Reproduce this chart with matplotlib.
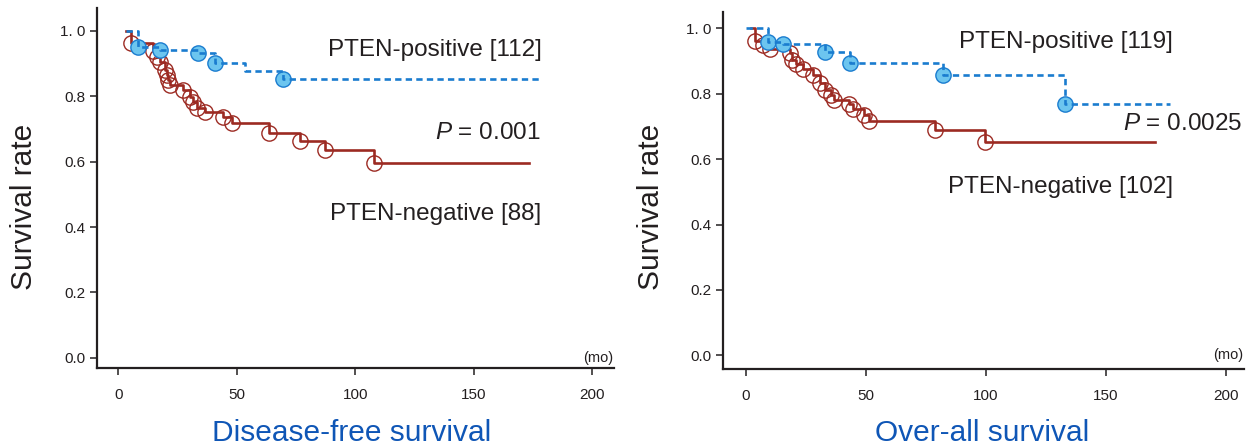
import matplotlib
matplotlib.use("Agg")
import matplotlib.pyplot as plt

plt.rcParams['font.family'] = ['Liberation Sans', 'DejaVu Sans']
plt.rcParams['mathtext.fontset'] = 'custom'
plt.rcParams['mathtext.rm'] = 'Liberation Sans'
plt.rcParams['mathtext.it'] = 'Liberation Sans:italic'

# ---------------- data ----------------
x_ticks = [0, 50, 100, 150, 200]
y_ticks = [0.0, 0.2, 0.4, 0.6, 0.8, 1.0]
y_tick_labels = ["0.0", "0.2", "0.4", "0.6", "0.8", "1. 0"]

# Disease-free survival, PTEN-positive (step times / survival after step)
dfs_pos_t = [3, 8.4, 17.6, 33.8, 40.8, 53.5, 69.4, 178.7]
dfs_pos_s = [1.0, 0.952, 0.942, 0.932, 0.903, 0.878, 0.852, 0.852]
dfs_pos_mark_t = [8.4, 17.6, 33.8, 40.8, 69.4]
dfs_pos_mark_s = [0.952, 0.942, 0.932, 0.903, 0.852]

# Disease-free survival, PTEN-negative
dfs_neg_t = [3, 5.4, 14.8, 16.2, 17.6, 19.7, 20.4, 21.1, 21.8, 27.4, 30.3,
             31.6, 33.1, 36.6, 44.3, 47.8, 63.5, 76.7, 87.0, 108.0, 173.4]
dfs_neg_s = [1.0, 0.962, 0.937, 0.921, 0.906, 0.881, 0.865, 0.850, 0.835, 0.820, 0.799,
             0.784, 0.764, 0.753, 0.738, 0.718, 0.687, 0.663, 0.636, 0.597, 0.597]
dfs_neg_mark_t = dfs_neg_t[1:-1]
dfs_neg_mark_s = dfs_neg_s[1:-1]

# Over-all survival, PTEN-positive
os_pos_t = [0, 9.4, 15.5, 33.0, 43.4, 82.2, 132.9, 176.5]
os_pos_s = [1.0, 0.958, 0.952, 0.929, 0.895, 0.857, 0.770, 0.770]
os_pos_mark_t = [9.4, 15.5, 33.0, 43.4, 82.2, 132.9]
os_pos_mark_s = [0.958, 0.952, 0.929, 0.895, 0.857, 0.770]

# Over-all survival, PTEN-negative
os_neg_t = [2, 4.0, 7.0, 10.2, 18.4, 19.2, 21.0, 23.9, 27.9, 30.8, 33.1, 35.5,
            36.6, 43.0, 44.6, 49.3, 51.5, 78.6, 99.7, 170.5]
os_neg_s = [1.0, 0.962, 0.949, 0.938, 0.925, 0.903, 0.891, 0.877, 0.857, 0.832, 0.813, 0.796,
            0.780, 0.768, 0.753, 0.735, 0.717, 0.689, 0.652, 0.652]
os_neg_mark_t = os_neg_t[1:-1]
os_neg_mark_s = os_neg_s[1:-1]

# ---------------- style ----------------
RED = '#9c2a22'
BLUE = '#1a7ccf'
LBLUE = '#6cc5ef'
TITLE_BLUE = '#0f56b6'
TXT = '#231f20'

W, H = 1259, 447
fig = plt.figure(figsize=(W / 100, H / 100), dpi=100)


def setup(ax, xlim, ylim):
    ax.set_xlim(*xlim)
    ax.set_ylim(*ylim)
    for s in ('top', 'right'):
        ax.spines[s].set_visible(False)
    for s in ('left', 'bottom'):
        ax.spines[s].set_linewidth(1.6)
        ax.spines[s].set_color(TXT)
    ax.set_xticks(x_ticks)
    ax.set_xticklabels([str(v) for v in x_ticks])
    ax.set_yticks(y_ticks)
    ax.set_yticklabels(y_tick_labels)
    ax.tick_params(direction='out', length=5, width=1.1, color=TXT,
                   labelsize=11, labelcolor=TXT)
    ax.tick_params(axis='x', pad=9.5)
    ax.tick_params(axis='y', pad=3.5)


def draw(ax, pt, ps, pmt, pms, nt, ns, nmt, nms):
    ax.plot(nmt, nms, 'o', ms=11, mfc='none', mec=RED, mew=1.0, zorder=2, clip_on=False)
    ax.step(nt, ns, where='post', color=RED, lw=1.9, zorder=3, clip_on=False)
    ax.plot(pmt, pms, 'o', ms=11, mfc=LBLUE, mec=BLUE, mew=1.0, zorder=4, clip_on=False)
    ax.step(pt, ps, where='post', color=BLUE, lw=1.9, ls=(0, (2.4, 1.6)),
            zorder=5, clip_on=False)


ax1 = fig.add_axes([0.0773, 0.1761, 0.4104, 0.806])
setup(ax1, (-8.9, 209.2), (-0.032, 1.070))
draw(ax1, dfs_pos_t, dfs_pos_s, dfs_pos_mark_t, dfs_pos_mark_s,
     dfs_neg_t, dfs_neg_s, dfs_neg_mark_t, dfs_neg_mark_s)
ax1.text(178.6, 0.923, 'PTEN-positive [112]', ha='right', va='baseline', fontsize=17.5, color=TXT)
ax1.text(178.1, 0.670, r'$\it{P}$ = 0.001', ha='right', va='baseline', fontsize=17.5, color=TXT)
ax1.text(178.6, 0.421, 'PTEN-negative [88]', ha='right', va='baseline', fontsize=17.5, color=TXT)
ax1.text(209.0, -0.012, '(mo)', ha='right', va='baseline', fontsize=10.5, color=TXT)

ax2 = fig.add_axes([0.5744, 0.1738, 0.4137, 0.800])
setup(ax2, (-9.4, 207.4), (-0.043, 1.051))
draw(ax2, os_pos_t, os_pos_s, os_pos_mark_t, os_pos_mark_s,
     os_neg_t, os_neg_s, os_neg_mark_t, os_neg_mark_s)
ax2.text(177.9, 0.939, 'PTEN-positive [119]', ha='right', va='baseline', fontsize=17.5, color=TXT)
ax2.text(206.5, 0.689, r'$\it{P}$ = 0.0025', ha='right', va='baseline', fontsize=17.5, color=TXT)
ax2.text(177.8, 0.495, 'PTEN-negative [102]', ha='right', va='baseline', fontsize=17.5, color=TXT)
ax2.text(207.2, -0.011, '(mo)', ha='right', va='baseline', fontsize=10.5, color=TXT)

# y-axis labels
fig.text(24 / W, 1 - 206.7 / H, 'Survival rate', rotation=90, ha='center', va='center',
         fontsize=21.5, color=TXT)
fig.text(651 / W, 1 - 206.7 / H, 'Survival rate', rotation=90, ha='center', va='center',
         fontsize=21.5, color=TXT)

# panel titles
fig.text(351.7 / W, 1 - 441 / H, 'Disease-free survival', ha='center', va='baseline',
         fontsize=21.5, color=TITLE_BLUE)
fig.text(982.5 / W, 1 - 441 / H, 'Over-all survival', ha='center', va='baseline',
         fontsize=21.5, color=TITLE_BLUE)

fig.savefig('out.png', dpi=100)
